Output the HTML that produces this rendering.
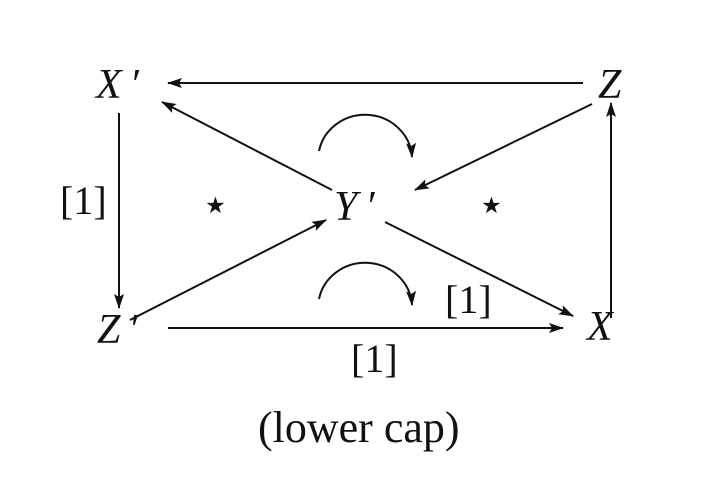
<!DOCTYPE html>
<html><head><style>
body{margin:0;background:#fff;}
svg{display:block;}
text{font-family:"Liberation Serif",serif;fill:#111;}
.n{font-size:42px;font-style:italic;}
.r{font-size:40px;}
.s{font-size:46px;}
</style></head><body>
<svg width="715" height="483" viewBox="0 0 715 483">
<defs><marker id="a" markerWidth="15" markerHeight="10" refX="14" refY="5" orient="auto" markerUnits="userSpaceOnUse"><path d="M0,0 L15,5 L0,10 L3,5 z" fill="#111"/></marker></defs>
<g stroke="#111" stroke-width="2" fill="none">
<line x1="583" y1="83" x2="168" y2="83" marker-end="url(#a)"/>
<line x1="119" y1="113" x2="119" y2="308" marker-end="url(#a)"/>
<line x1="611" y1="318" x2="611" y2="103" marker-end="url(#a)"/>
<line x1="168" y1="328" x2="563" y2="328" marker-end="url(#a)"/>
<line x1="332" y1="190" x2="162" y2="102" marker-end="url(#a)"/>
<line x1="592" y1="104" x2="415" y2="190" marker-end="url(#a)"/>
<line x1="130" y1="320" x2="326" y2="220" marker-end="url(#a)"/>
<line x1="385" y1="222" x2="573" y2="316" marker-end="url(#a)"/>
<path d="M319,151 A47,45 0 0 1 412,157" marker-end="url(#a)"/>
<path d="M319,299 A47,45 0 0 1 412,305" marker-end="url(#a)"/>
</g>
<text class="n" x="96" y="98">X<tspan dx="8">′</tspan></text>
<text class="n" x="598" y="98">Z</text>
<text class="n" x="334" y="220">Y<tspan dx="8">′</tspan></text>
<text class="n" x="97" y="343">Z<tspan dx="8">′</tspan></text>
<text class="n" x="587" y="340">X</text>
<text class="r" x="60" y="214">[1]</text>
<text class="r" x="445" y="313">[1]</text>
<text class="r" x="351" y="372">[1]</text>
<text class="r" x="258" y="442" style="font-size:44px">(lower cap)</text>
<text class="s" x="201" y="220">⋆</text>
<text class="s" x="477" y="220">⋆</text>
</svg>
</body></html>
